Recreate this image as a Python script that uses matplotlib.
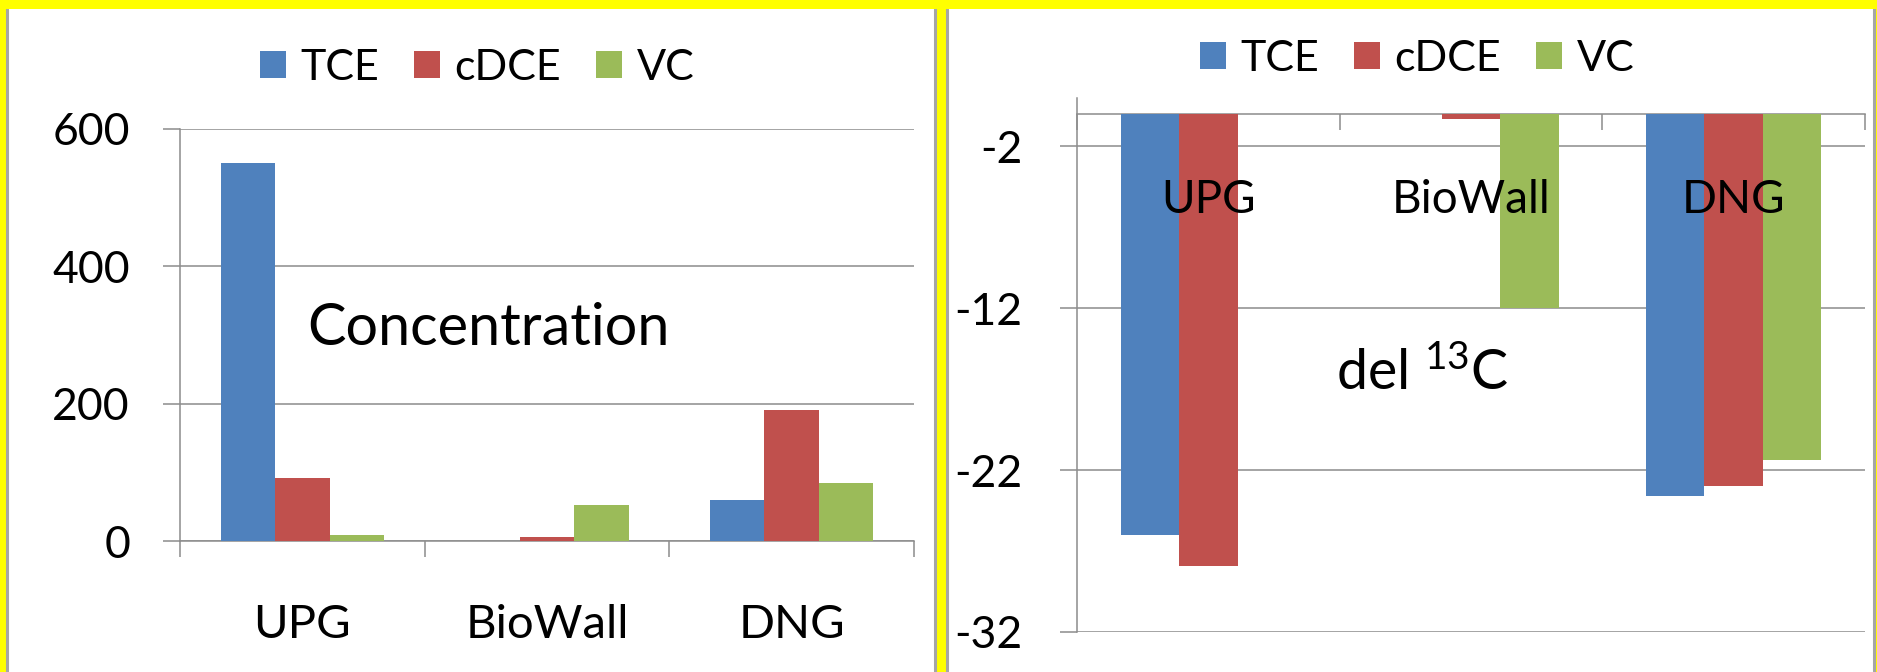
import numpy as np
import matplotlib
matplotlib.use("Agg")
import matplotlib.pyplot as plt
from matplotlib.patches import Rectangle

plt.rcParams['font.family'] = ['Lato', 'DejaVu Sans']
plt.rcParams['axes.unicode_minus'] = False

# data
sites = ['UPG', 'BioWall', 'DNG']
compounds = ['TCE', 'cDCE', 'VC']
conc_tce = [550, 0, 59]
conc_cdce = [92, 6, 190]
conc_vc = [9, 53, 84]
del_tce = [-26.0, 0, -23.6]
del_cdce = [-27.9, -0.3, -23.0]
del_vc = [0, -12.0, -21.4]
colors = ['#4F81BD', '#C0504D', '#9BBB59']
grid_c = '#8c8c8c'

W, H = 1877, 672
fig = plt.figure(figsize=(W / 100, H / 100), dpi=100, facecolor='#FFFF00')


def px(x0, y0, x1, y1):
    # pixel box -> figure fraction [left, bottom, width, height]
    return [x0 / W, 1 - y1 / H, (x1 - x0) / W, (y1 - y0) / H]


# white chart panels with gray side borders
for x0, x1 in [(6.5, 935), (947, 1874)]:
    fig.add_artist(Rectangle((x0 / W, -0.1), (x1 - x0) / W, 1.2, transform=fig.transFigure,
                             facecolor='white', edgecolor='#a6a6a6', lw=2.2, zorder=0))
fig.add_artist(Rectangle((0, 1 - 8.5 / H), 1, 0.1, transform=fig.transFigure,
                         facecolor='#FFFF00', edgecolor='none', zorder=0.5))


def style_axis(ax):
    for s in ['top', 'right']:
        ax.spines[s].set_visible(False)
    for s in ['left', 'bottom']:
        ax.spines[s].set_color(grid_c)
        ax.spines[s].set_linewidth(1.1)
    ax.set_xlim(-0.5, 2.5)
    ax.set_xticks(np.arange(3))
    ax.set_xticks([-0.5, 0.5, 1.5, 2.5], minor=True)
    ax.tick_params(axis='x', which='major', length=0)
    ax.tick_params(axis='x', which='minor', length=11.5, width=1.1, color=grid_c)
    ax.tick_params(axis='y', length=12, width=1.1, color=grid_c, labelsize=32)
    ax.yaxis.grid(True, color=grid_c, lw=1.1)
    ax.set_axisbelow(True)
    ax.patch.set_alpha(0)


def add_legend(ax, cx, cy):
    ax.legend(loc='center', bbox_to_anchor=(cx / W, 1 - cy / H), bbox_transform=fig.transFigure,
              ncol=3, frameon=False, fontsize=31, handlelength=0.62, handleheight=0.6,
              handletextpad=0.33, columnspacing=0.8)


x = np.arange(len(sites))
bw = 1 / 4.5

# left: concentration
ax1 = fig.add_axes(px(180, 128.6, 914, 541))
for i, vals in enumerate([conc_tce, conc_cdce, conc_vc]):
    ax1.bar(x + (i - 1) * bw, vals, bw, color=colors[i], label=compounds[i], zorder=3)
style_axis(ax1)
ax1.set_ylim(0, 600)
ax1.set_yticks([0, 200, 400, 600])
ax1.tick_params(axis='y', pad=24)
ax1.set_xticklabels(sites, fontsize=34)
ax1.tick_params(axis='x', which='major', pad=45)
add_legend(ax1, 477, 68)
fig.text(307.5 / W, 1 - 345 / H, 'Concentration', fontsize=41.5, ha='left', va='baseline')

# right: del 13C
ax2 = fig.add_axes(px(1077, 97.7, 1865, 632))
for i, vals in enumerate([del_tce, del_cdce, del_vc]):
    ax2.bar(x + (i - 1) * bw, vals, bw, color=colors[i], label=compounds[i], zorder=3)
style_axis(ax2)
ax2.set_ylim(-32, 1)
ax2.set_yticks([-2, -12, -22, -32])
ax2.tick_params(axis='y', pad=27)
ax2.spines['bottom'].set_position(('data', 0))
ax2.set_xticklabels([])
# category names sit over the bars, just below the zero line
for xi, name in zip(x, sites):
    ax2.text(xi, -6.15, name, fontsize=33, ha='center', va='baseline', zorder=5)
add_legend(ax2, 1417, 59)
fig.text(1335.7 / W, 1 - 390 / H, r'del $\mathregular{^{13}}$C', fontsize=40, ha='left', va='baseline')

fig.savefig('out.png', dpi=100, facecolor=fig.get_facecolor())
